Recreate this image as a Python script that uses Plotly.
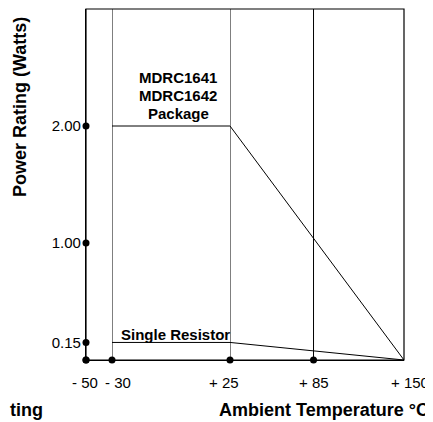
import plotly.graph_objects as go

# ---- data ----
tick_temps = [-50, -30, 25, 85, 150]
tick_labels = ["- 50", "- 30", "+ 25", "+ 85", "+ 150"]
dot_temps = [-50, -30, 25, 85]
grid_temps = [-30, 25, 85]
power_ticks = [0.15, 1.00, 2.00]
power_labels = ["0.15", "1.00", "2.00"]
power_dots = [0.0, 0.15, 1.00, 2.00]
package_temp = [-30, 25, 150]
package_power = [2.00, 2.00, 0.00]
resistor_temp = [-30, 25, 150]
resistor_power = [0.15, 0.15, 0.00]
package_label = ["MDRC1641", "MDRC1642", "Package"]
resistor_label = "Single Resistor"

# ---- layout (page pixels; the page body adds an 8px offset) ----
OFF = 8
W, H = 433 - OFF, 422 - OFF
PL, PR, PT, PB = 86, 404, 8, 360          # plot area in page pixels
ML, MR = PL - OFF, W - (PR - OFF)
MT, MB = max(PT - OFF, 1), H - (PB - OFF)
PW = W - ML - MR
PH = H - MT - MB
breaks_px = [86, 112, 230, 404]
segments = [
    ("x", -50, -30),
    ("x2", -30, 25),
    ("x3", 25, 150),
]
domains = [[(breaks_px[i] - PL) / PW, (breaks_px[i + 1] - PL) / PW] for i in range(3)]
label_nudge_px = [-1, 6, -6, 0, 6]        # horizontal nudges of the x tick labels
package_label_y_px = [77, 95, 113]


def px_x(px):
    return (px - PL) / PW


def px_y(py):
    return (PB - py) / PH


FONT = "Liberation Sans, Arial, Helvetica, sans-serif"
BLACK = "#000000"


def seg_of(t):
    for i, (_, lo, hi) in enumerate(segments):
        if lo <= t < hi:
            return i
    return len(segments) - 1


fig = go.Figure()

# data lines, split over the axis pieces
for temps, powers in [(package_temp, package_power), (resistor_temp, resistor_power)]:
    for ax, lo, hi in segments:
        pts = [(t, p) for t, p in zip(temps, powers) if lo <= t <= hi]
        if len(pts) >= 2:
            fig.add_trace(go.Scatter(
                x=[p[0] for p in pts], y=[p[1] for p in pts],
                xaxis=ax, yaxis="y", mode="lines",
                line=dict(color=BLACK, width=1), hoverinfo="skip",
                showlegend=False))

# dots on the x axis
for i, (ax, lo, hi) in enumerate(segments):
    ts = [t for t in dot_temps if seg_of(t) == i]
    if ts:
        fig.add_trace(go.Scatter(
            x=ts, y=[0] * len(ts), xaxis=ax, yaxis="y", mode="markers",
            marker=dict(color=BLACK, size=7), cliponaxis=False,
            showlegend=False, hoverinfo="skip"))

# dots on the y axis
fig.add_trace(go.Scatter(
    x=[tick_temps[0]] * len(power_dots), y=power_dots, xaxis="x", yaxis="y",
    mode="markers", marker=dict(color=BLACK, size=7), cliponaxis=False,
    showlegend=False, hoverinfo="skip"))

# vertical grid lines
for t in grid_temps:
    ax = segments[seg_of(t)][0]
    fig.add_shape(type="line", xref=ax, yref="paper", x0=t, x1=t, y0=0, y1=1,
                  line=dict(color=BLACK, width=1))

# frame
fig.add_shape(type="rect", xref="paper", yref="paper", x0=0, x1=1, y0=0, y1=1,
              line=dict(color=BLACK, width=1.2))

layout_axes = {}
for i, (ax, lo, hi) in enumerate(segments):
    name = "xaxis" if ax == "x" else "xaxis" + ax[1:]
    layout_axes[name] = dict(
        domain=domains[i], range=[lo, hi], anchor="y",
        showticklabels=False, ticks="", showgrid=False, zeroline=False,
        showline=True, linecolor=BLACK, linewidth=1.2, fixedrange=True)

# x tick labels, placed at their temperatures on each axis piece
for t, lab, dx in zip(tick_temps, tick_labels, label_nudge_px):
    ax = segments[seg_of(t)][0]
    fig.add_annotation(text=lab, xref=ax, yref="paper", x=t, y=0,
                       xanchor="center", yanchor="middle", yshift=-22, xshift=dx,
                       showarrow=False, borderpad=0,
                       font=dict(family=FONT, size=15, color=BLACK))

fig.update_layout(
    width=W, height=H,
    margin=dict(l=ML, r=MR, t=MT, b=MB),
    paper_bgcolor="white", plot_bgcolor="white",
    showlegend=False,
    yaxis=dict(range=[0, 3], anchor="x", tickvals=power_ticks, ticktext=power_labels,
               ticks="", showgrid=False, zeroline=False, showline=True,
               linecolor=BLACK, linewidth=1.2,
               tickfont=dict(family=FONT, size=15, color=BLACK),
               ticklabelstandoff=1, fixedrange=True),
    **layout_axes,
)

for line, py in zip(package_label, package_label_y_px):
    fig.add_annotation(text="<b>" + line + "</b>", xref="paper", yref="paper",
                       x=px_x(178), y=px_y(py), xanchor="center", yanchor="middle",
                       showarrow=False, font=dict(family=FONT, size=15, color=BLACK))
fig.add_annotation(text="<b>" + resistor_label + "</b>", xref="paper", yref="paper",
                   x=px_x(175), y=px_y(334), xanchor="center", yanchor="middle",
                   showarrow=False, font=dict(family=FONT, size=15, color=BLACK))
fig.add_annotation(text="<b>Power Rating (Watts)</b>", xref="paper", yref="paper",
                   x=px_x(20), y=px_y(107),
                   xanchor="center", yanchor="middle", textangle=-90, showarrow=False,
                   font=dict(family=FONT, size=18, color=BLACK))
fig.add_annotation(text="<b>Ambient Temperature °C</b>", xref="paper", yref="paper",
                   x=px_x(430), y=px_y(410),
                   xanchor="right", yanchor="middle", showarrow=False, borderpad=0,
                   font=dict(family=FONT, size=18, color=BLACK))
fig.add_annotation(text="<b>ting</b>", xref="paper", yref="paper",
                   x=px_x(44), y=px_y(410),
                   xanchor="right", yanchor="middle", showarrow=False, borderpad=0,
                   font=dict(family=FONT, size=18, color=BLACK))

fig.write_html("out.html")
